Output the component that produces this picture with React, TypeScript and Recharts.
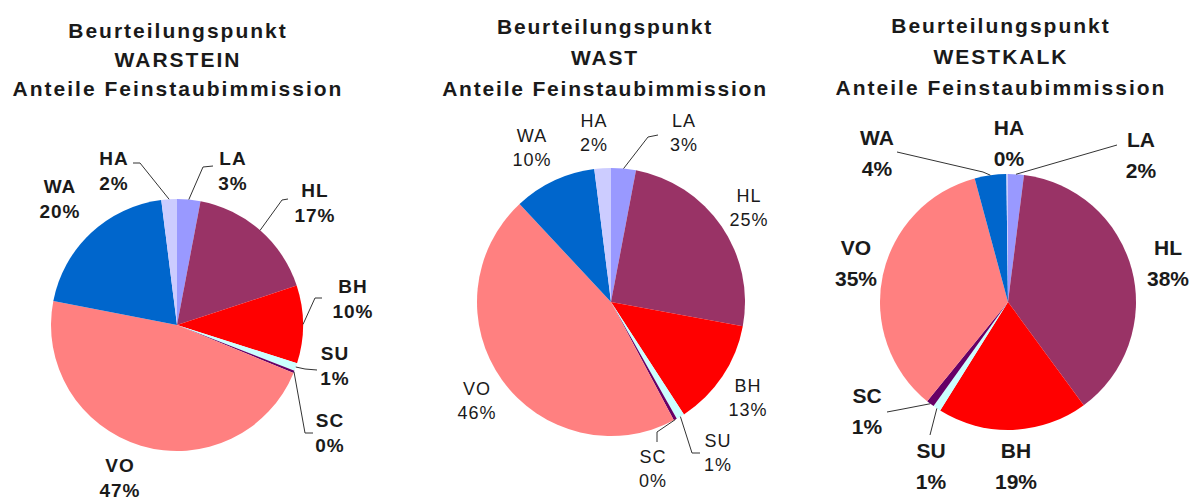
import { PieChart, Pie, Cell } from "recharts";

// slices run clockwise from 12 o'clock in this order
const categories = ["LA", "HL", "BH", "SU", "SC", "VO", "WA", "HA"];

// shares in percent (0% slices still show a sliver)
const warsteinShares = [3, 17, 10, 1, 0.3, 47, 20, 2];
const wastShares = [3, 25, 13, 1, 0.4, 46, 10, 2];
const westkalkShares = [2, 38, 19, 1, 1, 35, 4, 0.2];

const stations = ["WARSTEIN", "WAST", "WESTKALK"];
const titleHead = "Beurteilungspunkt";
const titleTail = "Anteile Feinstaubimmission";

const COLORS: Record<string, string> = {
  LA: "#9999ff",
  HL: "#993366",
  BH: "#ff0000",
  SU: "#ccffff",
  SC: "#660066",
  VO: "#ff8080",
  WA: "#0066cc",
  HA: "#ccccff",
};

type Pt = [number, number];
interface LabelSpec {
  at: Pt; // baseline of the name line, relative to the pie centre
  line?: Pt[]; // leader line points after the slice edge, relative to centre
}
interface PieSpec {
  values: number[];
  station: string;
  cx: number;
  cy: number;
  r: number;
  titleX: number;
  titleY: number[];
  titleSpacing: number;
  font: { size: number; weight: string; gap: number; spacing: number };
  labels: Record<string, LabelSpec>;
}

const pies: PieSpec[] = [
  {
    values: warsteinShares,
    station: stations[0],
    cx: 177,
    cy: 325,
    r: 126,
    titleX: 178,
    titleY: [38, 67, 96],
    titleSpacing: 2,
    font: { size: 19, weight: "bold", gap: 25, spacing: 1 },
    labels: {
      WA: { at: [-117, -132] },
      HA: { at: [-63, -160], line: [[-37, -162], [-44, -162]] },
      LA: { at: [56, -160], line: [[26, -158], [36, -159]] },
      HL: { at: [138, -128], line: [[105, -125], [111, -126]] },
      BH: { at: [176, -32], line: [[138, -27], [145, -27]] },
      SU: { at: [158, 35], line: [[128, 44], [140, 45]] },
      SC: { at: [153, 102], line: [[128, 108], [136, 108]] },
      VO: { at: [-57, 147] },
    },
  },
  {
    values: wastShares,
    station: stations[1],
    cx: 611,
    cy: 302,
    r: 134,
    titleX: 605,
    titleY: [34, 65, 96],
    titleSpacing: 1.8,
    font: { size: 18, weight: "normal", gap: 24, spacing: 1 },
    labels: {
      WA: { at: [-79, -160] },
      HA: { at: [-17, -175] },
      LA: { at: [73, -175], line: [[37, -165], [47, -167]] },
      HL: { at: [138, -100] },
      BH: { at: [137, 90] },
      SU: { at: [107, 145], line: [[81, 151], [89, 151]] },
      SC: { at: [42, 161], line: [[46, 130], [46, 140]] },
      VO: { at: [-134, 93] },
    },
  },
  {
    values: westkalkShares,
    station: stations[2],
    cx: 1008,
    cy: 302,
    r: 128,
    titleX: 1001,
    titleY: [33, 64, 95],
    titleSpacing: 2,
    font: { size: 21, weight: "bold", gap: 31, spacing: 0 },
    labels: {
      WA: { at: [-131, -157], line: [[-25, -130], [-111, -150]] },
      HA: { at: [1, -167] },
      LA: { at: [133, -155], line: [[109, -157]] },
      HL: { at: [160, -47] },
      VO: { at: [-152, -47] },
      SC: { at: [-141, 101], line: [[-105, 107], [-121, 110]] },
      SU: { at: [-77, 156], line: [[-78, 133]] },
      BH: { at: [8, 156] },
    },
  },
];

const FONT = "Arial, 'Liberation Sans', sans-serif";

function makeLabel(spec: PieSpec) {
  return (props: any) => {
    const { cx, cy, midAngle, outerRadius, index, value } = props;
    const name = categories[index];
    const l = spec.labels[name];
    if (!l) return null;
    const x = cx + l.at[0];
    const y = cy + l.at[1];
    let leader = null;
    if (l.line) {
      const rad = (-midAngle * Math.PI) / 180;
      const pts: Pt[] = [
        [cx + outerRadius * Math.cos(rad), cy + outerRadius * Math.sin(rad)],
        ...l.line.map(([dx, dy]) => [cx + dx, cy + dy] as Pt),
      ];
      leader = (
        <polyline
          points={pts.map((p) => p.join(",")).join(" ")}
          fill="none"
          stroke="#333"
          strokeWidth={1}
        />
      );
    }
    return (
      <g key={`${spec.station}-${name}`}>
        {leader}
        <text
          x={x}
          y={y}
          textAnchor="middle"
          fontFamily={FONT}
          fontSize={spec.font.size}
          fontWeight={spec.font.weight}
          letterSpacing={spec.font.spacing}
          fill="#1a1a1a"
        >
          <tspan x={x}>{name}</tspan>
          <tspan x={x} dy={spec.font.gap}>
            {Math.round(value)}%
          </tspan>
        </text>
      </g>
    );
  };
}

export default function App() {
  return (
    <div
      style={{
        position: "absolute",
        left: 0,
        top: 0,
        width: 1189,
        height: 501,
        background: "#fff",
        overflow: "hidden",
      }}
    >
      <PieChart width={1189} height={501} margin={{ top: 0, right: 0, bottom: 0, left: 0 }}>
        {pies.map((p) => (
          <Pie
            key={p.station}
            data={categories.map((c, i) => ({ name: c, value: p.values[i] }))}
            dataKey="value"
            nameKey="name"
            cx={p.cx}
            cy={p.cy}
            outerRadius={p.r}
            startAngle={90}
            endAngle={-270}
            stroke="none"
            label={makeLabel(p)}
            labelLine={false}
            isAnimationActive={false}
          >
            {categories.map((c) => (
              <Cell key={c} fill={COLORS[c]} />
            ))}
          </Pie>
        ))}
      </PieChart>

      {/* chart titles */}
      <svg
        width={1189}
        height={501}
        style={{ position: "absolute", left: 0, top: 0, pointerEvents: "none" }}
      >
        {pies.map((p) =>
          [titleHead, p.station, titleTail].map((t, i) => (
            <text
              key={`${p.station}-${i}`}
              x={p.titleX}
              y={p.titleY[i]}
              textAnchor="middle"
              fontFamily={FONT}
              fontSize={21}
              fontWeight="bold"
              letterSpacing={p.titleSpacing}
              fill="#1a1a1a"
            >
              {t}
            </text>
          ))
        )}
      </svg>
    </div>
  );
}
